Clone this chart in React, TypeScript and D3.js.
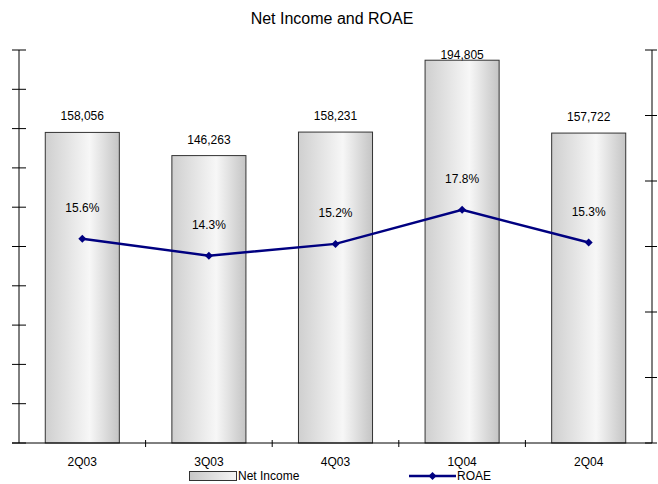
import React from "react";
import * as d3 from "d3";

const categories = ["2Q03", "3Q03", "4Q03", "1Q04", "2Q04"];
const netIncome = [158056, 146263, 158231, 194805, 157722];
const roae = [15.6, 14.3, 15.2, 17.8, 15.3];
const leftTicks = d3.range(0, 200001, 20000);
const rightTicks = d3.range(0, 30.01, 5);
const title = "Net Income and ROAE";

const W = 658, H = 484;
const L = 19, R = 652, T = 50, B = 443;

export default function App() {
  const x = d3.scaleBand<string>().domain(categories).range([L, R]).paddingInner(0.415).paddingOuter(0.2075);
  const xb = d3.scaleBand<string>().domain(categories).range([L, R]);
  const yL = d3.scaleLinear().domain([0, 200000]).range([B, T]);
  const yR = d3.scaleLinear().domain([0, 30]).range([B, T]);
  const fmt = d3.format(",");
  const line = d3.line<number>().x((_, i) => xb(categories[i])! + xb.bandwidth() / 2).y((d) => yR(d));
  const font = "Liberation Sans, Arial, sans-serif";
  return (
    <svg width={W} height={H} style={{ position: "absolute", left: 0, top: 0, background: "#fff" }} fontFamily={font}>
      <defs>
        <linearGradient id="barGrad" x1="0" x2="1" y1="0" y2="0">
          <stop offset="0" stopColor="#cfcfcf" />
          <stop offset="0.6" stopColor="#f7f7f7" />
          <stop offset="1" stopColor="#c4c4c4" />
        </linearGradient>
        <linearGradient id="legGrad" x1="0" x2="1" y1="0" y2="0">
          <stop offset="0" stopColor="#c8c8c8" />
          <stop offset="1" stopColor="#f5f5f5" />
        </linearGradient>
      </defs>
      <text x={332} y={24} textAnchor="middle" fontSize={16}>{title}</text>
      {netIncome.map((v, i) => (
        <rect key={i} x={x(categories[i])} y={yL(v)} width={x.bandwidth()} height={B - yL(v)}
          fill="url(#barGrad)" stroke="#333" strokeWidth={1} />
      ))}
      {netIncome.map((v, i) => (
        <text key={i} x={x(categories[i])! + x.bandwidth() / 2} y={Math.max(yL(v) - 12, 59)} textAnchor="middle" fontSize={12}>{fmt(v)}</text>
      ))}
      {/* left axis */}
      <line x1={L} x2={L} y1={T} y2={B} stroke="#000" />
      {leftTicks.map((t) => (
        <line key={t} x1={L - 7} x2={L + 7} y1={yL(t)} y2={yL(t)} stroke="#000" />
      ))}
      {/* right axis */}
      <line x1={R} x2={R} y1={T} y2={B} stroke="#000" />
      {rightTicks.map((t) => (
        <line key={t} x1={R - 7} x2={R + 5} y1={yR(t)} y2={yR(t)} stroke="#000" />
      ))}
      {/* bottom axis */}
      <line x1={L - 7} x2={R} y1={B} y2={B} stroke="#000" />
      {categories.map((c, i) => i > 0 ? (
        <line key={c} x1={xb(c)} x2={xb(c)} y1={B - 3} y2={B + 4} stroke="#000" />
      ) : null)}
      {categories.map((c) => (
        <text key={c} x={xb(c)! + xb.bandwidth() / 2} y={466} textAnchor="middle" fontSize={12}>{c}</text>
      ))}
      <path d={line(roae)!} fill="none" stroke="#000080" strokeWidth={2.5} />
      {roae.map((v, i) => {
        const cx = xb(categories[i])! + xb.bandwidth() / 2, cy = yR(v);
        return <path key={i} d={`M${cx},${cy - 4}L${cx + 4},${cy}L${cx},${cy + 4}L${cx - 4},${cy}Z`} fill="#000080" />;
      })}
      {roae.map((v, i) => (
        <text key={i} x={xb(categories[i])! + xb.bandwidth() / 2} y={yR(v) - 27} textAnchor="middle" fontSize={12}>{v.toFixed(1)}%</text>
      ))}
      {/* legend */}
      <rect x={189.5} y={471.5} width={47} height={9} fill="url(#legGrad)" stroke="#333" />
      <text x={238} y={480} fontSize={12}>Net Income</text>
      <line x1={409} x2={456} y1={476} y2={476} stroke="#000080" strokeWidth={2.5} />
      <path d="M432.5,472L436.5,476L432.5,480L428.5,476Z" fill="#000080" />
      <text x={457} y={480} fontSize={12}>ROAE</text>
    </svg>
  );
}
